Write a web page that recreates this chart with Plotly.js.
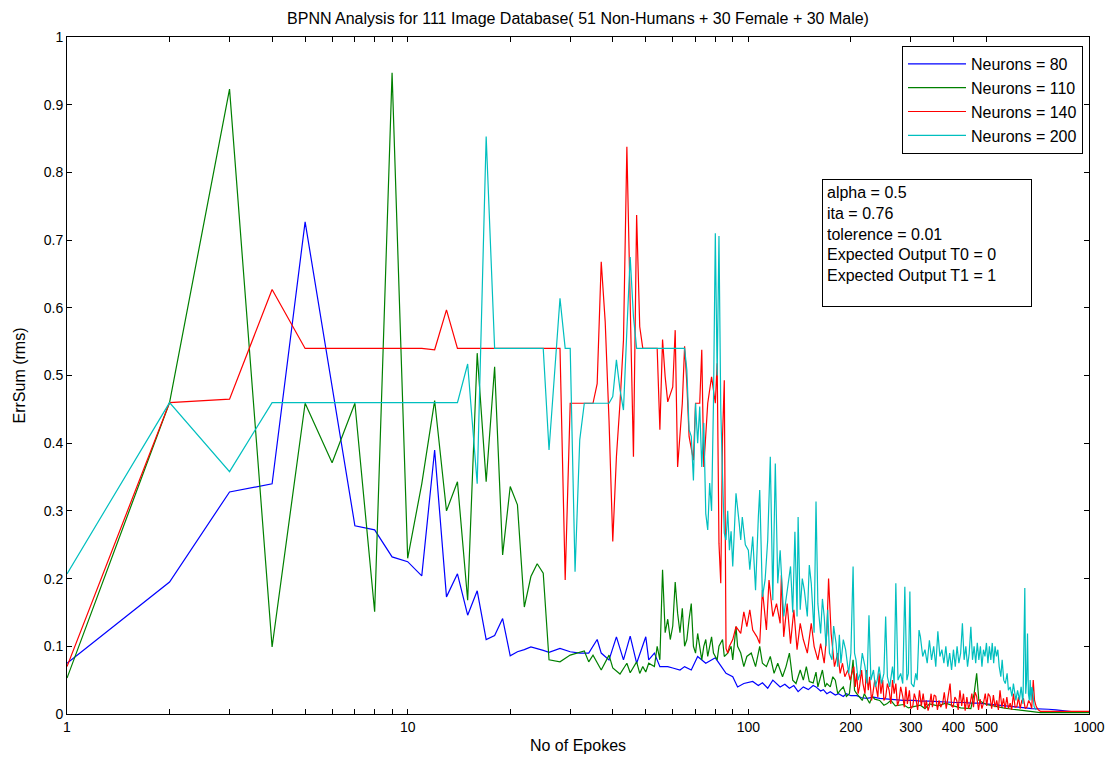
<!DOCTYPE html>
<html>
<head>
<meta charset="utf-8">
<script src="https://cdn.plot.ly/plotly-3.0.1.min.js"></script>
<style>
  html, body { margin: 0; padding: 0; background: #fff; }
  #chart { width: 1118px; height: 759px; }
</style>
</head>
<body>
<div id="chart"></div>
<script>
// ---- Data: [epoch, ErrSum] ----
const seriesNames = ['Neurons = 80', 'Neurons = 110', 'Neurons = 140', 'Neurons = 200'];
const seriesColors = ['#0000ff', '#008000', '#ff0000', '#00bfbf'];

const neurons80 = [[1,0.075],[2,0.195],[3,0.328],[4,0.34],[5,0.727],[6,0.48],[7,0.278],[8,0.272],[9,0.232],[10,0.225],[11,0.204],[12,0.39],[13,0.173],[14,0.207],[15,0.146],[16,0.182],[17,0.11],[18,0.116],[19,0.141],[20,0.086],[21,0.092],[22,0.095],[23,0.099],[25,0.094],[26,0.091],[28,0.097],[30,0.092],[32,0.09],[34,0.09],[36,0.11],[37,0.09],[39,0.08],[41,0.114],[43,0.08],[45,0.115],[47,0.075],[50,0.114],[51,0.08],[53,0.09],[55,0.07],[58,0.07],[60,0.068],[63,0.065],[65,0.07],[68,0.065],[71,0.085],[75,0.075],[80,0.083],[82,0.075],[86,0.06],[90,0.055],[93,0.04],[97,0.045],[103,0.048],[107,0.042],[110,0.046],[114,0.038],[118,0.05],[124,0.04],[128,0.044],[132,0.038],[136,0.042],[140,0.033],[145,0.04],[150,0.036],[155,0.042],[158,0.04],[163,0.034],[166,0.036],[170,0.03],[174,0.033],[180,0.028],[184,0.03],[190,0.026],[194,0.03],[200,0.027],[208,0.027],[215,0.024],[223,0.023],[233,0.025],[243,0.023],[255,0.022],[270,0.021],[285,0.02],[305,0.02],[320,0.019],[340,0.019],[360,0.018],[380,0.018],[405,0.017],[430,0.017],[450,0.016],[475,0.016],[500,0.015],[530,0.014],[560,0.013],[595,0.011],[620,0.01],[650,0.009],[680,0.008],[700,0.008],[730,0.007],[760,0.007],[800,0.006],[850,0.004],[900,0.003],[1000,0.003]];

const neurons110 = [[1,0.053],[2,0.46],[3,0.923],[4,0.099],[5,0.459],[6,0.371],[7,0.459],[8,0.151],[9,0.947],[10,0.23],[11,0.34],[12,0.463],[13,0.30],[14,0.343],[15,0.168],[16,0.533],[17,0.343],[18,0.513],[19,0.235],[20,0.336],[21,0.309],[22,0.158],[23,0.203],[24,0.222],[25,0.208],[26,0.08],[28,0.077],[30,0.087],[33,0.093],[34,0.077],[35,0.087],[37,0.065],[39,0.087],[40,0.068],[42,0.059],[44,0.075],[45,0.061],[47,0.077],[48,0.06],[49,0.07],[50,0.062],[51,0.075],[53,0.07],[54,0.1],[55,0.08],[56,0.213],[57,0.12],[58,0.14],[59,0.11],[60,0.13],[61,0.195],[62,0.149],[63,0.12],[64,0.156],[65,0.1],[66,0.11],[67,0.14],[68,0.163],[69,0.1],[70,0.09],[71,0.119],[72,0.095],[73,0.08],[74,0.1],[75,0.11],[76,0.085],[78,0.114],[79,0.09],[81,0.08],[82,0.1],[84,0.11],[85,0.085],[87,0.09],[89,0.1],[90,0.08],[92,0.129],[93,0.1],[95,0.09],[97,0.07],[99,0.085],[102,0.09],[105,0.07],[108,0.1],[110,0.075],[113,0.07],[116,0.085],[119,0.06],[122,0.075],[126,0.055],[129,0.07],[132,0.09],[135,0.05],[138,0.045],[142,0.065],[145,0.05],[148,0.07],[151,0.048],[155,0.046],[158,0.062],[160,0.04],[163,0.058],[165,0.065],[168,0.04],[170,0.045],[174,0.04],[177,0.055],[180,0.05],[183,0.03],[186,0.035],[190,0.04],[194,0.026],[198,0.03],[203,0.08],[205,0.035],[208,0.03],[212,0.025],[216,0.02],[219,0.03],[222,0.025],[227,0.016],[231,0.026],[235,0.022],[243,0.02],[250,0.013],[255,0.015],[262,0.02],[270,0.012],[285,0.014],[295,0.009],[305,0.011],[320,0.013],[330,0.008],[340,0.015],[360,0.012],[380,0.016],[400,0.012],[420,0.009],[450,0.008],[460,0.03],[468,0.06],[472,0.03],[475,0.02],[500,0.014],[530,0.011],[560,0.009],[595,0.007],[620,0.006],[650,0.004],[690,0.003],[720,0.002],[750,0.002],[1000,0.002]];

const neurons140 = [[1,0.07],[2,0.46],[3,0.465],[4,0.627],[5,0.54],[6,0.54],[7,0.54],[8,0.54],[9,0.54],[10,0.54],[11,0.54],[12,0.538],[13,0.597],[14,0.54],[15,0.54],[16,0.54],[17,0.54],[18,0.54],[19,0.54],[20,0.54],[22,0.54],[24,0.54],[26,0.54],[28,0.54],[29,0.198],[30,0.459],[32,0.459],[34,0.459],[35,0.459],[36,0.488],[37,0.668],[38,0.58],[39,0.434],[40,0.255],[41,0.38],[42,0.459],[43,0.552],[44,0.838],[45,0.616],[46,0.38],[47,0.737],[48,0.572],[49,0.54],[50,0.54],[52,0.54],[54,0.54],[55,0.42],[56,0.553],[57,0.498],[58,0.461],[60,0.483],[61,0.567],[62,0.365],[64,0.459],[65,0.543],[66,0.488],[67,0.41],[69,0.375],[70,0.459],[72,0.459],[73,0.538],[74,0.365],[76,0.459],[78,0.498],[80,0.459],[81,0.518],[82,0.252],[83,0.193],[84,0.41],[85,0.493],[86,0.097],[87,0.09],[88,0.1],[90,0.11],[92,0.129],[95,0.119],[97,0.151],[99,0.129],[101,0.154],[103,0.124],[106,0.114],[108,0.104],[110,0.183],[113,0.124],[115,0.198],[118,0.144],[121,0.163],[124,0.134],[125,0.205],[127,0.114],[130,0.163],[133,0.104],[136,0.154],[139,0.095],[142,0.134],[145,0.11],[149,0.09],[153,0.134],[156,0.1],[160,0.08],[163,0.104],[167,0.075],[170,0.12],[172,0.2],[175,0.119],[179,0.07],[183,0.09],[186,0.06],[189,0.075],[192,0.055],[196,0.065],[199,0.05],[204,0.07],[206,0.04],[208,0.06],[210,0.03],[212,0.04],[215,0.065],[217,0.045],[220,0.03],[222,0.065],[225,0.035],[227,0.055],[230,0.02],[232,0.03],[235,0.05],[237,0.04],[240,0.025],[242,0.06],[245,0.03],[248,0.05],[250,0.02],[253,0.025],[256,0.045],[259,0.035],[262,0.015],[265,0.05],[268,0.03],[271,0.045],[274,0.012],[277,0.02],[280,0.04],[284,0.026],[287,0.01],[290,0.04],[293,0.015],[297,0.035],[300,0.008],[304,0.012],[307,0.03],[311,0.02],[314,0.006],[318,0.035],[322,0.012],[326,0.03],[330,0.008],[333,0.02],[337,0.005],[340,0.012],[344,0.03],[347,0.01],[351,0.028],[355,0.026],[359,0.006],[363,0.02],[367,0.01],[372,0.016],[376,0.032],[381,0.008],[386,0.03],[391,0.045],[395,0.012],[399,0.01],[404,0.025],[409,0.02],[413,0.006],[418,0.035],[423,0.012],[428,0.03],[433,0.005],[438,0.025],[443,0.008],[448,0.016],[453,0.03],[458,0.01],[463,0.032],[468,0.026],[474,0.006],[479,0.022],[485,0.008],[490,0.016],[496,0.03],[501,0.012],[506,0.03],[512,0.026],[518,0.008],[524,0.028],[530,0.01],[536,0.02],[542,0.006],[548,0.035],[555,0.01],[561,0.023],[567,0.008],[574,0.025],[580,0.008],[587,0.016],[593,0.006],[600,0.03],[607,0.01],[614,0.011],[621,0.025],[628,0.008],[635,0.02],[642,0.023],[650,0.008],[657,0.01],[665,0.02],[672,0.016],[679,0.008],[686,0.05],[692,0.02],[700,0.011],[710,0.006],[720,0.004],[1000,0.004]];

const neurons200 = [[1,0.207],[2,0.46],[3,0.358],[4,0.46],[6,0.46],[8,0.46],[10,0.46],[12,0.46],[14,0.46],[15,0.517],[16,0.34],[17,0.853],[18,0.54],[20,0.54],[22,0.54],[25,0.54],[26,0.39],[27,0.5],[28,0.614],[29,0.54],[30,0.54],[31,0.21],[32,0.405],[33,0.459],[35,0.459],[37,0.459],[39,0.459],[40,0.469],[41,0.523],[42,0.479],[43,0.449],[44,0.567],[45,0.675],[46,0.587],[47,0.54],[50,0.54],[55,0.54],[60,0.54],[65,0.54],[66,0.508],[67,0.42],[68,0.41],[69,0.345],[70,0.459],[71,0.4],[72,0.454],[73,0.365],[74,0.43],[75,0.296],[76,0.272],[77,0.341],[78,0.3],[79,0.459],[80,0.71],[81,0.5],[82,0.706],[83,0.45],[84,0.35],[85,0.267],[86,0.257],[87,0.3],[88,0.242],[89,0.27],[90,0.218],[92,0.326],[94,0.282],[95,0.257],[96,0.291],[98,0.25],[100,0.242],[101,0.213],[103,0.262],[105,0.183],[107,0.291],[108,0.331],[110,0.173],[112,0.198],[114,0.257],[116,0.38],[118,0.168],[120,0.37],[122,0.193],[124,0.242],[127,0.144],[130,0.178],[133,0.218],[135,0.15],[137,0.269],[139,0.144],[140,0.291],[142,0.154],[144,0.2],[146,0.183],[149,0.144],[151,0.22],[153,0.193],[156,0.12],[158,0.314],[160,0.163],[163,0.119],[165,0.17],[167,0.144],[169,0.1],[171,0.154],[173,0.09],[176,0.08],[178,0.13],[181,0.104],[183,0.07],[185,0.117],[187,0.075],[190,0.11],[193,0.095],[197,0.06],[200,0.09],[203,0.218],[205,0.09],[207,0.08],[210,0.05],[213,0.06],[216,0.09],[220,0.07],[223,0.045],[226,0.146],[229,0.05],[233,0.065],[236,0.04],[239,0.05],[242,0.07],[246,0.045],[250,0.06],[253,0.144],[256,0.055],[260,0.04],[265,0.07],[268,0.045],[271,0.193],[275,0.05],[280,0.06],[284,0.045],[288,0.188],[292,0.05],[295,0.06],[298,0.181],[301,0.045],[306,0.04],[310,0.06],[313,0.05],[317,0.124],[320,0.114],[325,0.085],[330,0.095],[335,0.075],[340,0.109],[345,0.08],[350,0.1],[355,0.07],[360,0.122],[365,0.085],[370,0.095],[375,0.075],[380,0.1],[385,0.07],[390,0.09],[395,0.065],[400,0.095],[405,0.07],[410,0.1],[415,0.075],[420,0.09],[425,0.134],[430,0.08],[435,0.1],[440,0.07],[445,0.09],[450,0.129],[455,0.08],[460,0.1],[465,0.075],[470,0.105],[475,0.08],[480,0.1],[485,0.07],[490,0.095],[495,0.085],[500,0.105],[505,0.075],[510,0.1],[515,0.08],[520,0.105],[525,0.075],[530,0.1],[535,0.085],[540,0.095],[545,0.07],[551,0.055],[556,0.08],[562,0.05],[568,0.045],[575,0.06],[580,0.035],[587,0.04],[594,0.026],[600,0.045],[610,0.02],[617,0.035],[625,0.021],[632,0.04],[640,0.015],[648,0.186],[652,0.03],[656,0.05],[660,0.119],[664,0.03],[668,0.02],[672,0.05],[676,0.02],[680,0.04],[684,0.033],[690,0.011],[700,0.006]];

const xTickVals = [1,2,3,4,5,6,7,8,9,10,20,30,40,50,60,70,80,90,100,200,300,400,500,1000];
const xTickText = ['1','','','','','','','','','10','','','','','','','','','100','200','300','400','500','1000'];
const xLongTicks = [10,100];
const yTickVals = [0,0.1,0.2,0.3,0.4,0.5,0.6,0.7,0.8,0.9,1];
const yTickText = ['0','0.1','0.2','0.3','0.4','0.5','0.6','0.7','0.8','0.9','1'];

const titleText = 'BPNN Analysis for 111 Image Database( 51 Non-Humans + 30 Female + 30 Male)';
const xTitle = 'No of Epokes';
const yTitle = 'ErrSum (rms)';
const noteLines = ['alpha = 0.5', 'ita = 0.76', 'tolerence = 0.01', 'Expected Output T0 = 0', 'Expected Output T1 = 1'];

// ---- Build traces ----
const allSeries = [neurons80, neurons110, neurons140, neurons200];
const traces = allSeries.map((s, i) => ({
  type: 'scatter',
  mode: 'lines',
  name: seriesNames[i],
  legendgroup: 'g' + i,
  x: s.map(p => p[0]),
  y: s.map(p => p[1]),
  line: { color: seriesColors[i], width: 1.2 },
  hoverinfo: 'x+y+name'
}));

const FONT = 'Liberation Sans, Arial, Helvetica, sans-serif';

const layout = {
  width: 1118,
  height: 759,
  margin: { l: 67, r: 29, t: 37, b: 45 },
  paper_bgcolor: '#ffffff',
  plot_bgcolor: '#ffffff',
  font: { family: FONT, size: 14, color: '#000' },
  showlegend: true,
  title: {
    text: titleText,
    font: { family: FONT, size: 16, color: '#000' },
    xref: 'paper', x: 0.5, xanchor: 'center',
    yref: 'container', y: 1 - 18 / 759, yanchor: 'middle'
  },
  xaxis: {
    type: 'log',
    range: [0, 3],
    tickmode: 'array',
    tickvals: xTickVals,
    ticktext: xTickText,
    ticks: 'inside',
    ticklen: 5,
    tickwidth: 1,
    tickcolor: '#000',
    showline: true,
    linecolor: '#000',
    linewidth: 1,
    mirror: 'ticks',
    showgrid: false,
    zeroline: false,
    tickfont: { family: FONT, size: 14, color: '#000' },
    title: { text: xTitle, font: { family: FONT, size: 16, color: '#000' }, standoff: 6 },
    automargin: false
  },
  xaxis2: {
    type: 'log',
    range: [0, 3],
    overlaying: 'x',
    anchor: 'y',
    side: 'bottom',
    tickmode: 'array',
    tickvals: xLongTicks,
    ticktext: ['', ''],
    ticks: 'inside',
    ticklen: 9,
    tickwidth: 1,
    tickcolor: '#000',
    showline: false,
    mirror: 'ticks',
    showgrid: false,
    zeroline: false,
    showticklabels: false
  },
  yaxis: {
    range: [0, 1],
    tickmode: 'array',
    tickvals: yTickVals,
    ticktext: yTickText,
    ticks: 'inside',
    ticklen: 5,
    tickwidth: 1,
    tickcolor: '#000',
    showline: true,
    linecolor: '#000',
    linewidth: 1,
    mirror: 'ticks',
    showgrid: false,
    zeroline: false,
    tickfont: { family: FONT, size: 14, color: '#000' },
    title: { text: yTitle, font: { family: FONT, size: 16, color: '#000' }, standoff: 14 },
    automargin: false
  },
  legend: {
    x: (1083 - 67) / 1022,
    y: 1 - (46 - 37) / 677,
    xanchor: 'right',
    yanchor: 'top',
    bgcolor: '#ffffff',
    bordercolor: '#000',
    borderwidth: 1,
    font: { family: FONT, size: 16, color: '#000' },
    tracegroupgap: 0,
    itemwidth: 58
  },
  annotations: [{
    xref: 'paper', yref: 'paper',
    x: (822 - 67) / 1022, y: 1 - (179 - 37) / 677,
    xanchor: 'left', yanchor: 'top',
    text: noteLines.join('<br>'),
    showarrow: false,
    align: 'left',
    valign: 'top',
    width: 200,
    height: 118,
    borderpad: 4,
    bordercolor: '#000',
    borderwidth: 1,
    bgcolor: '#ffffff',
    font: { family: FONT, size: 16, color: '#000' }
  }]
};

Plotly.newPlot('chart', traces, layout, { displayModeBar: false });
</script>
</body>
</html>
